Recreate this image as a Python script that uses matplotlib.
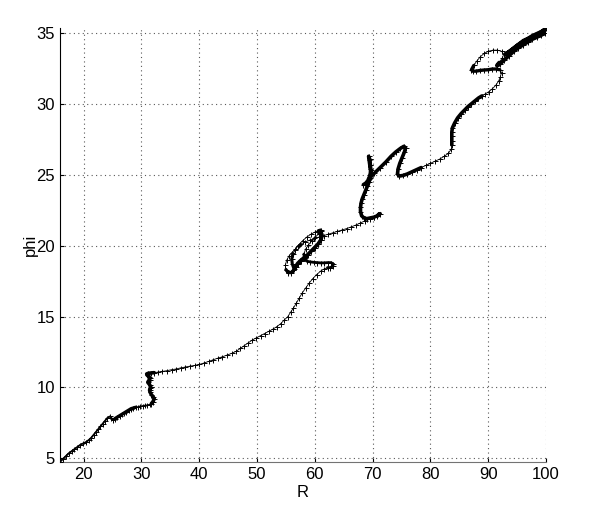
import matplotlib
matplotlib.use("Agg")
import matplotlib.pyplot as plt

# Trajectory, in pieces (R, phi)
R_start = [15.9, 16.4, 16.9, 17.4, 17.9, 18.4, 18.9, 19.4, 19.9, 20.4, 20.9, 21.3, 21.7, 22.1, 22.5, 22.9, 23.3, 23.7, 24.1, 24.5, 24.8, 25.0]
phi_start = [4.75, 4.95, 5.15, 5.35, 5.5, 5.65, 5.8, 5.95, 6.05, 6.15, 6.3, 6.45, 6.65, 6.85, 7.05, 7.25, 7.45, 7.65, 7.85, 7.95, 7.85, 7.7]

R_zig = [25.4, 25.8, 26.2, 26.6, 27.0, 27.4, 27.8, 28.2, 28.6, 29.0, 29.4, 29.8, 30.2, 30.6, 31.0, 31.4, 31.7, 32.0, 32.2, 32.0,
         31.7, 31.5, 31.4, 31.5, 31.6, 31.4, 31.1, 31.2, 31.4, 31.5, 31.3, 31.0, 30.9, 31.2, 31.7, 32.2]
phi_zig = [7.8, 7.9, 8.0, 8.1, 8.2, 8.3, 8.4, 8.5, 8.55, 8.6, 8.65, 8.7, 8.72, 8.75, 8.77, 8.8, 8.85, 9.0, 9.2, 9.35,
           9.5, 9.65, 9.8, 9.95, 10.05, 10.2, 10.35, 10.45, 10.55, 10.65, 10.75, 10.85, 10.95, 11.0, 11.02, 11.04]

R_mid = [32.8, 33.6, 34.4, 35.2, 36.0, 36.8, 37.6, 38.4, 39.2, 40.0, 40.8, 41.6, 42.4, 43.2, 44.0, 44.8, 45.6, 46.4, 47.1, 47.8,
         48.5, 49.2, 49.9, 50.6, 51.3, 52.0, 52.7, 53.4, 54.1, 54.7, 55.3, 55.8, 56.3, 56.8, 57.3, 57.8, 58.4, 59.0, 59.6, 60.3, 61.0, 61.6]
phi_mid = [11.08, 11.13, 11.18, 11.25, 11.3, 11.38, 11.44, 11.5, 11.55, 11.62, 11.72, 11.83, 11.95, 12.06, 12.16, 12.28, 12.4, 12.55, 12.75, 12.95,
           13.15, 13.35, 13.5, 13.65, 13.8, 13.95, 14.1, 14.28, 14.5, 14.75, 14.98, 15.3, 15.6, 15.95, 16.3, 16.65, 17.0, 17.35, 17.65, 17.95, 18.2, 18.35]

R_loop = [62.2, 62.7, 63.1, 63.2, 62.8, 62.2, 61.6, 61.0, 60.4, 59.8, 59.2, 58.6, 58.2, 58.1, 58.4, 58.9, 59.5, 60.1, 60.7, 61.1,
          61.2, 61.0, 60.5, 59.9, 59.3, 58.7, 58.1, 57.5, 57.0, 56.6, 56.3, 55.9, 55.4, 55.0, 54.9, 55.1, 55.5, 56.0, 56.6, 57.2,
          57.9, 58.6, 59.3, 60.0, 60.6, 61.0, 61.3, 61.1, 60.6, 60.0, 59.4, 58.8, 58.2, 57.6, 57.1, 56.7, 56.4, 56.1, 56.0, 56.2, 56.6, 57.0, 57.5]
phi_loop = [18.45, 18.45, 18.55, 18.7, 18.8, 18.8, 18.78, 18.78, 18.8, 18.82, 18.85, 18.9, 19.1, 19.4, 19.75, 20.05, 20.35, 20.6, 20.85, 21.0,
            20.7, 20.4, 20.1, 19.85, 19.6, 19.35, 19.15, 18.95, 18.75, 18.5, 18.25, 18.1, 18.1, 18.3, 18.6, 18.95, 19.25, 19.5, 19.75, 20.05,
            20.35, 20.6, 20.8, 20.95, 21.05, 21.1, 20.7, 20.4, 20.1, 19.85, 19.6, 19.35, 19.1, 18.9, 18.7, 18.5, 18.35, 18.7, 19.05, 19.4, 19.7, 19.95, 20.1]

R_exit = [58.3, 59.1, 59.9, 60.7, 61.5, 62.3, 63.1, 63.9, 64.7, 65.5, 66.3, 67.1, 67.9, 68.7, 69.5, 70.3, 71.0, 71.3,
          70.8, 70.2, 69.6, 69.0, 68.5, 68.1, 67.9, 67.9, 68.0, 68.2, 68.5, 68.8, 69.1, 69.4, 69.6, 69.7, 69.6, 69.5, 69.4, 69.3, 69.5, 69.6, 69.7, 69.5, 69.2, 68.8, 68.4]
phi_exit = [20.25, 20.38, 20.5, 20.6, 20.7, 20.8, 20.9, 21.0, 21.1, 21.2, 21.32, 21.45, 21.6, 21.75, 21.9, 22.05, 22.2, 22.25,
            22.1, 22.0, 21.95, 21.9, 21.95, 22.1, 22.4, 22.7, 23.0, 23.3, 23.6, 23.9, 24.2, 24.5, 24.8, 25.1, 25.4, 25.7, 26.0, 26.3, 26.1, 25.7, 25.3, 24.9, 24.6, 24.4, 24.3]

R_zed = [69.3, 70.3, 71.3, 72.3, 73.2, 74.0, 74.8, 75.4, 75.7, 75.5, 75.1, 74.7, 74.4, 74.3, 74.6, 75.3, 76.0, 76.8, 77.6, 78.4,
         79.2, 80.0, 80.8, 81.6, 82.4, 83.1, 83.6]
phi_zed = [24.7, 25.1, 25.5, 25.9, 26.3, 26.6, 26.85, 27.0, 26.9, 26.6, 26.2, 25.8, 25.4, 25.05, 24.9, 24.95, 25.05, 25.2, 25.35, 25.5,
           25.65, 25.8, 25.95, 26.1, 26.3, 26.5, 26.8]

R_climb = [83.7, 83.7, 83.7, 83.7, 83.8, 84.2, 84.7, 85.3, 85.9, 86.5, 87.1, 87.7, 88.3, 88.9, 89.5, 90.1, 90.7, 91.3, 91.8, 92.1, 92.3]
phi_climb = [27.1, 27.4, 27.7, 28.0, 28.3, 28.65, 29.0, 29.3, 29.55, 29.8, 30.0, 30.2, 30.4, 30.55, 30.7, 30.85, 31.05, 31.3, 31.6, 31.9, 32.2]

R_top = [92.0, 91.4, 90.7, 90.0, 89.3, 88.6, 87.9, 87.3, 87.1, 87.5, 88.0, 88.6, 89.3, 90.0, 90.8, 91.6, 92.3, 92.7, 92.4, 91.9, 91.5,
         92.0, 92.8, 93.6, 94.4, 95.2, 96.0, 96.8, 97.6, 98.4, 99.2, 99.9,
         99.3, 98.5, 97.7, 96.9, 96.1, 95.3, 94.5, 93.7, 93.0,
         93.4, 94.1, 95.0, 96.0, 97.0, 98.0, 99.0, 99.6, 100.0]
phi_top = [32.4, 32.45, 32.45, 32.4, 32.38, 32.35, 32.3, 32.3, 32.4, 32.7, 33.0, 33.3, 33.55, 33.7, 33.78, 33.78, 33.7, 33.5, 33.2, 32.9, 32.7,
           32.8, 33.1, 33.4, 33.7, 33.95, 34.15, 34.35, 34.55, 34.7, 34.85, 35.0,
           35.1, 34.95, 34.8, 34.6, 34.45, 34.2, 33.95, 33.7, 33.5,
           33.6, 33.8, 34.1, 34.35, 34.6, 34.8, 35.0, 35.2, 35.35]

R = R_start + R_zig + R_mid + R_loop + R_exit + R_zed + R_climb + R_top
phi = phi_start + phi_zig + phi_mid + phi_loop + phi_exit + phi_zed + phi_climb + phi_top

x_ticks = [20, 30, 40, 50, 60, 70, 80, 90, 100]
y_ticks = [5, 10, 15, 20, 25, 30, 35]

plt.rcParams['font.family'] = ['Liberation Sans', 'DejaVu Sans']

fig = plt.figure(figsize=(6.0, 5.07), dpi=100)
ax = fig.add_axes([0.1, 0.089, 0.81, 0.856])

# whole trajectory: thin line with small '+' markers
ax.plot(R, phi, color='black', linewidth=0.6, marker='+', markersize=3.6,
        markeredgewidth=0.7, zorder=3)

# slow (densely sampled) stretches look heavier in the reference
def heavy(xs, ys, i0, i1, lw):
    ax.plot(xs[i0:i1], ys[i0:i1], color='black', linewidth=lw,
            solid_capstyle='round', solid_joinstyle='round', zorder=3)

heavy(R_start, phi_start, 0, 22, 1.3)
heavy(R_zig, phi_zig, 0, 10, 2.4)
heavy(R_zig, phi_zig, 16, 36, 2.6)
heavy(R_loop, phi_loop, 0, 14, 2.0)
heavy(R_loop, phi_loop, 18, 34, 2.4)
heavy(R_loop, phi_loop, 44, 60, 2.2)
heavy(R_exit, phi_exit, 16, 45, 2.6)
heavy(R_zed, phi_zed, 0, 20, 2.6)
heavy(R_climb, phi_climb, 0, 14, 2.6)
heavy(R_top, phi_top, 0, 10, 2.4)
heavy(R_top, phi_top, 19, 50, 2.8)

ax.set_xlim(min(R), max(R))
ax.set_ylim(min(phi), max(phi))
ax.set_xticks(x_ticks)
ax.set_yticks(y_ticks)
ax.grid(True, linestyle=(0, (1, 3)), color='0.35', linewidth=0.8)
ax.set_axisbelow(True)
for s in ['top', 'right']:
    ax.spines[s].set_visible(False)
ax.spines['left'].set_color('black')
ax.spines['bottom'].set_color('0.45')
ax.tick_params(direction='in', length=3, labelsize=12, colors='black')
ax.set_xlabel('R', fontsize=12, labelpad=2)
ax.set_ylabel('phi', fontsize=12, labelpad=-1)

fig.savefig('out.png', dpi=100)
